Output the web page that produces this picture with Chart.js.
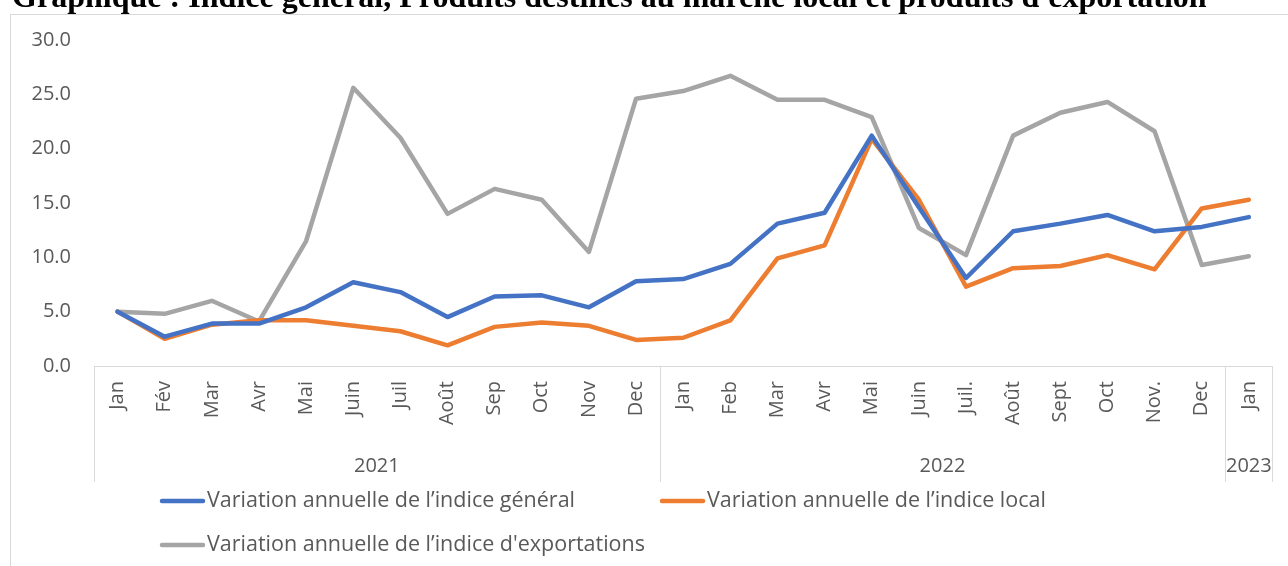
<!DOCTYPE html>
<html>
<head>
<meta charset="utf-8">
<title>Indice général, produits locaux et d'exportation</title>
<script src="https://cdn.jsdelivr.net/npm/chart.js"></script>
<style>
  body { margin: 0; background: #ffffff; }
  #wrap { width: 1288px; height: 566px; position: relative; }
</style>
</head>
<body>
<div id="wrap"><canvas id="chart" width="1288" height="566"></canvas></div>
<script>
// Chart data
const titleText = "Graphique : Indice général, Produits destinés au marché local et produits d'exportation";
const months = ["Jan", "Fév", "Mar", "Avr", "Mai", "Juin", "Juil", "Août", "Sep", "Oct", "Nov", "Dec",
                "Jan", "Feb", "Mar", "Avr", "Mai", "Juin", "Juil.", "Août", "Sept", "Oct", "Nov.", "Dec",
                "Jan"];
const years = ["2021", "2022", "2023"];
const monthsPerYear = [12, 12, 1];
const yTicks = [0, 5, 10, 15, 20, 25, 30];

const general = [5.0, 2.7, 3.9, 3.9, 5.4, 7.7, 6.8, 4.5, 6.4, 6.5, 5.4, 7.8,
                 8.0, 9.4, 13.1, 14.1, 21.2, 14.6, 8.1, 12.4, 13.1, 13.9, 12.4, 12.8,
                 13.7];
const local = [5.0, 2.5, 3.8, 4.2, 4.2, 3.7, 3.2, 1.9, 3.6, 4.0, 3.7, 2.4,
               2.6, 4.2, 9.9, 11.1, 20.9, 15.3, 7.3, 9.0, 9.2, 10.2, 8.9, 14.5,
               15.3];
const exportsIdx = [5.0, 4.8, 6.0, 4.1, 11.5, 25.6, 21.0, 14.0, 16.3, 15.3, 10.5, 24.6,
                    25.3, 26.7, 24.5, 24.5, 22.9, 12.7, 10.2, 21.2, 23.3, 24.3, 21.6, 9.3,
                    10.1];

const seriesNames = ["Variation annuelle de l’indice général",
                     "Variation annuelle de l’indice local",
                     "Variation annuelle de l’indice d'exportations"];
const seriesColors = ["#4472C4", "#ED7D31", "#A5A5A5"];

const textGrey = "#595959";
const lineGrey = "#d9d9d9";

// frame, title, year groups and legend (Excel style)
const decorations = {
    id: 'decorations',
    beforeDraw(chart) {
        const ctx = chart.ctx;
        ctx.save();
        ctx.fillStyle = '#ffffff';
        ctx.fillRect(0, 0, chart.width, chart.height);
        ctx.strokeStyle = lineGrey;
        ctx.lineWidth = 1;
        ctx.strokeRect(10.5, 14.5, 1400, 700);

        // title sits half cut off at the top
        ctx.font = 'bold 100px "Liberation Serif"';
        const w = ctx.measureText(titleText).width;
        const size = 100 * 1195 / w;
        ctx.font = 'bold ' + size + 'px "Liberation Serif"';
        ctx.fillStyle = '#000000';
        ctx.textBaseline = 'alphabetic';
        ctx.textAlign = 'left';
        ctx.fillText(titleText, 12, 7);
        ctx.restore();
    },
    afterDraw(chart) {
        const ctx = chart.ctx;
        const x = chart.scales.x;
        const area = chart.chartArea;
        const half = (x.getPixelForValue(1) - x.getPixelForValue(0)) / 2;

        ctx.save();
        ctx.strokeStyle = lineGrey;
        ctx.lineWidth = 1;
        ctx.fillStyle = textGrey;
        ctx.font = '20px "Open Sans"';
        ctx.textAlign = 'center';
        ctx.textBaseline = 'middle';

        const bounds = [x.getPixelForValue(0) - half];
        let idx = 0;
        years.forEach((yr, i) => {
            const first = idx;
            idx += monthsPerYear[i];
            const left = x.getPixelForValue(first) - half;
            const right = x.getPixelForValue(idx - 1) + half;
            bounds.push(right);
            ctx.fillText(yr, (left + right) / 2, 466);
        });
        bounds.forEach(b => {
            const px = Math.round(b) + 0.5;
            ctx.beginPath();
            ctx.moveTo(px, area.bottom);
            ctx.lineTo(px, 482);
            ctx.stroke();
        });

        // legend
        const spots = [[160, 501], [660, 501], [160, 545]];
        ctx.textAlign = 'left';
        ctx.font = '21.5px "Open Sans"';
        chart.data.datasets.forEach((ds, i) => {
            const [lx, ly] = spots[i];
            ctx.strokeStyle = ds.borderColor;
            ctx.lineWidth = 4.5;
            ctx.lineCap = 'round';
            ctx.beginPath();
            ctx.moveTo(lx + 2, ly);
            ctx.lineTo(lx + 43, ly);
            ctx.stroke();
            ctx.fillStyle = textGrey;
            ctx.fillText(ds.label, lx + 47, ly);
        });
        ctx.restore();
    }
};

const lineStyle = {
    borderWidth: 4.5,
    pointRadius: 0,
    pointHoverRadius: 0,
    borderJoinStyle: 'round',
    borderCapStyle: 'round',
    tension: 0,
    fill: false
};

new Chart(document.getElementById('chart').getContext('2d'), {
    type: 'line',
    data: {
        labels: months,
        datasets: [
            { label: seriesNames[0], data: general, borderColor: seriesColors[0], backgroundColor: seriesColors[0], ...lineStyle },
            { label: seriesNames[1], data: local, borderColor: seriesColors[1], backgroundColor: seriesColors[1], ...lineStyle },
            { label: seriesNames[2], data: exportsIdx, borderColor: seriesColors[2], backgroundColor: seriesColors[2], ...lineStyle }
        ]
    },
    options: {
        responsive: false,
        animation: false,
        devicePixelRatio: 1,
        layout: { padding: { top: 40, right: 8, left: 0, bottom: 0 } },
        plugins: {
            legend: { display: false },
            title: { display: false },
            tooltip: { enabled: false }
        },
        scales: {
            x: {
                offset: true,
                grid: { display: false, drawTicks: false },
                border: { display: true, color: lineGrey, width: 1 },
                ticks: {
                    autoSkip: false,
                    minRotation: 90,
                    maxRotation: 90,
                    padding: 15,
                    color: textGrey,
                    font: { family: 'Open Sans', size: 20 }
                },
                afterFit(scale) { scale.height = 200; }
            },
            y: {
                min: 0,
                max: 30,
                afterBuildTicks(scale) { scale.ticks = yTicks.map(v => ({ value: v })); },
                grid: { display: false, drawTicks: false },
                border: { display: false },
                ticks: {
                    padding: 23,
                    color: textGrey,
                    font: { family: 'Open Sans', size: 20 },
                    callback: v => Number(v).toFixed(1)
                },
                afterFit(scale) { scale.width = 94; }
            }
        }
    },
    plugins: [decorations]
});
</script>
</body>
</html>
